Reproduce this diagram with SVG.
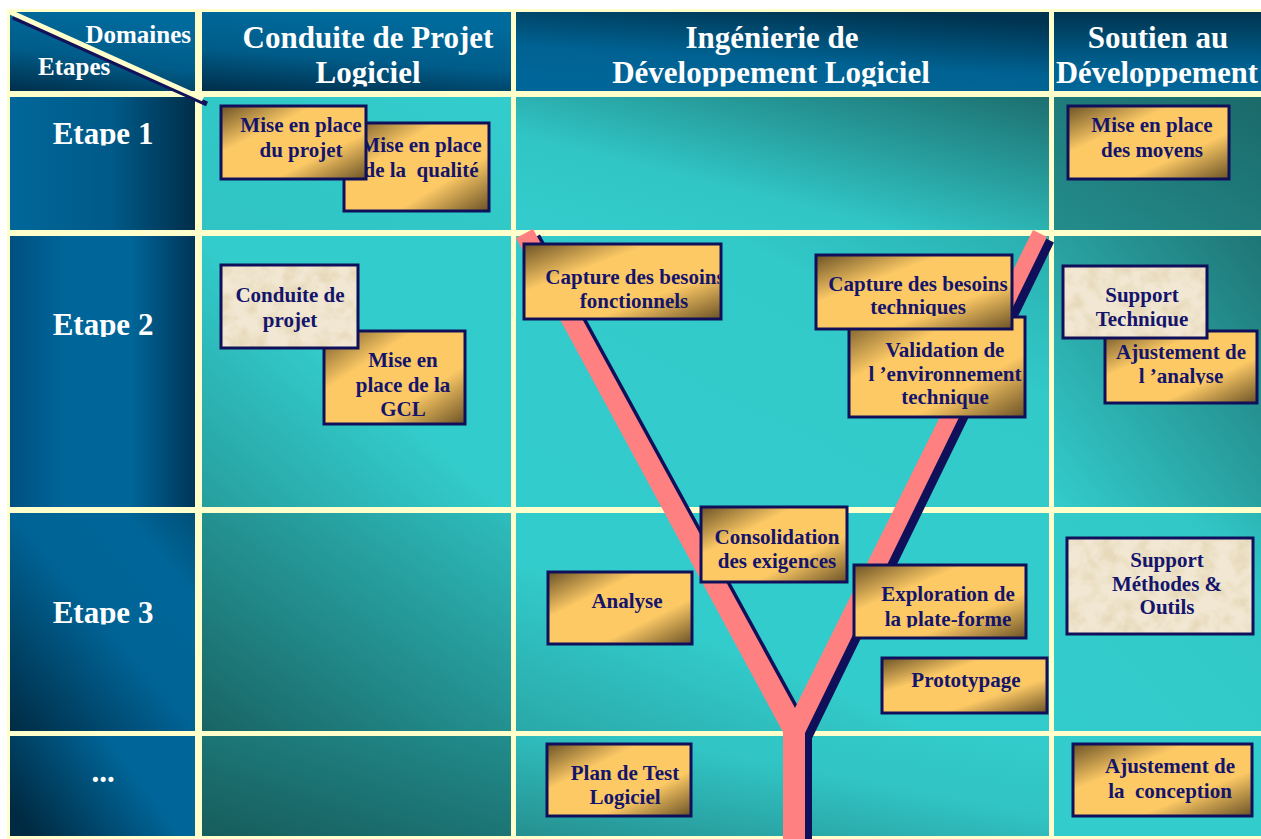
<svg xmlns="http://www.w3.org/2000/svg" width="1261" height="839" viewBox="0 0 1261 839">
<style>
.hd{font-family:"Liberation Serif","Times New Roman",serif;font-weight:bold;font-size:31px;fill:#FFFFFF;text-anchor:middle}
.sm{font-family:"Liberation Serif","Times New Roman",serif;font-weight:bold;font-size:25px;fill:#FFFFFF}
.bt{font-family:"Liberation Serif","Times New Roman",serif;font-weight:bold;font-size:21px;fill:#14146B;text-anchor:middle}
.gold{fill:url(#gold);stroke:#10105A;stroke-width:3}
.parch{fill:#F1E7D2}
.frame{fill:none;stroke:#10105A;stroke-width:3}
.tex{fill:#000;filter:url(#parchTex)}
</style>
<defs>
<linearGradient id="gold" x1="0" y1="0" x2="1" y2="1">
<stop offset="0" stop-color="#6B5226"/>
<stop offset="0.32" stop-color="#FCC965"/>
<stop offset="0.68" stop-color="#FCC965"/>
<stop offset="1" stop-color="#6B5226"/>
</linearGradient>
<filter id="parchTex" x="0" y="0" width="100%" height="100%">
<feTurbulence type="fractalNoise" baseFrequency="0.06" numOctaves="4" seed="7" result="n"/>
<feColorMatrix in="n" type="matrix" values="0 0 0 0 0.80  0 0 0 0 0.70  0 0 0 0 0.50  3 0 0 0 -1.25" result="c"/>
<feComposite in="c" in2="SourceGraphic" operator="in"/>
</filter>
<linearGradient id="hA" x1="0.3" y1="0" x2="0" y2="1"><stop offset="0" stop-color="#006A9C"/><stop offset="0.5" stop-color="#005C89"/><stop offset="1" stop-color="#002E4A"/></linearGradient>
<linearGradient id="hB" x1="0.7" y1="0" x2="0.3" y2="1"><stop offset="0" stop-color="#00334F"/><stop offset="0.6" stop-color="#006292"/><stop offset="1" stop-color="#006699"/></linearGradient>
<linearGradient id="hC" x1="0.5" y1="0" x2="0.5" y2="1"><stop offset="0" stop-color="#00344F"/><stop offset="0.7" stop-color="#006292"/><stop offset="1" stop-color="#006699"/></linearGradient>
<linearGradient id="e1" x1="0" y1="0" x2="1" y2="0"><stop offset="0" stop-color="#00679A"/><stop offset="0.55" stop-color="#005A88"/><stop offset="1" stop-color="#002E4A"/></linearGradient>
<linearGradient id="e2" x1="0" y1="0" x2="1" y2="0"><stop offset="0" stop-color="#005080"/><stop offset="0.3" stop-color="#00669A"/><stop offset="0.65" stop-color="#006699"/><stop offset="1" stop-color="#003558"/></linearGradient>
<linearGradient id="e3" x1="0" y1="1" x2="1" y2="0"><stop offset="0" stop-color="#002B44"/><stop offset="0.5" stop-color="#006395"/><stop offset="0.8" stop-color="#006699"/><stop offset="1" stop-color="#005078"/></linearGradient>
<linearGradient id="e4" x1="0" y1="0.7" x2="1" y2="0.3"><stop offset="0" stop-color="#002A42"/><stop offset="0.7" stop-color="#006699"/><stop offset="1" stop-color="#006699"/></linearGradient>
<linearGradient id="c12" x1="0" y1="1" x2="1" y2="0"><stop offset="0" stop-color="#30C4C4"/><stop offset="1" stop-color="#33CCCC"/></linearGradient>
<linearGradient id="c13" x1="0" y1="1" x2="1" y2="0"><stop offset="0" stop-color="#33CCCC"/><stop offset="0.35" stop-color="#31C6C6"/><stop offset="1" stop-color="#1D6F6F"/></linearGradient>
<linearGradient id="c14" x1="0" y1="1" x2="1" y2="0"><stop offset="0" stop-color="#248C8C"/><stop offset="1" stop-color="#1B6A6A"/></linearGradient>
<linearGradient id="c22" x1="0" y1="1" x2="1" y2="0"><stop offset="0" stop-color="#279E9E"/><stop offset="0.5" stop-color="#33CCCC"/><stop offset="1" stop-color="#33CCCC"/></linearGradient>
<linearGradient id="c23" x1="0" y1="1" x2="1" y2="0"><stop offset="0" stop-color="#33CCCC"/><stop offset="0.7" stop-color="#32C9C9"/><stop offset="1" stop-color="#2AAEAE"/></linearGradient>
<linearGradient id="c24" x1="0" y1="1" x2="1" y2="0"><stop offset="0" stop-color="#33CCCC"/><stop offset="1" stop-color="#1F7575"/></linearGradient>
<linearGradient id="c32" x1="0" y1="1" x2="1" y2="0"><stop offset="0" stop-color="#196464"/><stop offset="1" stop-color="#2EBDBD"/></linearGradient>
<linearGradient id="c33" x1="0" y1="1" x2="1" y2="0"><stop offset="0" stop-color="#2AA8A8"/><stop offset="0.4" stop-color="#33CCCC"/><stop offset="1" stop-color="#33CCCC"/></linearGradient>
<linearGradient id="c34" x1="0" y1="1" x2="1" y2="0"><stop offset="0" stop-color="#33CCCC"/><stop offset="0.8" stop-color="#32C8C8"/><stop offset="1" stop-color="#2DB5B5"/></linearGradient>
<linearGradient id="c42" x1="0" y1="1" x2="1" y2="0"><stop offset="0" stop-color="#175C5C"/><stop offset="1" stop-color="#228D8D"/></linearGradient>
<linearGradient id="c43" x1="0" y1="1" x2="1" y2="0"><stop offset="0" stop-color="#269090"/><stop offset="0.6" stop-color="#31C4C4"/><stop offset="1" stop-color="#33CCCC"/></linearGradient>
<clipPath id="clHdr"><rect x="0" y="0" width="1261" height="86.5"/></clipPath>
<clipPath id="clE1"><rect x="0" y="100" width="200" height="45.5"/></clipPath>
<clipPath id="clE2"><rect x="0" y="290" width="200" height="47"/></clipPath>
<clipPath id="clE3"><rect x="0" y="580" width="200" height="44.5"/></clipPath>
<clipPath id="clB3"><rect x="1060" y="100" width="180" height="58.5"/></clipPath>
<clipPath id="clB6"><rect x="520" y="240" width="199.5" height="80"/></clipPath>
<clipPath id="clB7"><rect x="810" y="250" width="210" height="66"/></clipPath>
<clipPath id="clB9"><rect x="1060" y="260" width="150" height="67.5"/></clipPath>
<clipPath id="clB10"><rect x="1100" y="325" width="160" height="59.5"/></clipPath>
<clipPath id="clB13"><rect x="850" y="560" width="180" height="67.5"/></clipPath>
</defs>

<rect x="0" y="0" width="1261" height="839" fill="#FFFFFF"/>
<rect x="7" y="9" width="1254" height="830" fill="#FFFFCC"/>

<g id="grid">
<rect x="10" y="12" width="185" height="79" fill="url(#hA)"/>
<rect x="202" y="12" width="309" height="79" fill="url(#hA)"/>
<rect x="516" y="12" width="533" height="79" fill="url(#hB)"/>
<rect x="1054" y="12" width="207" height="79" fill="url(#hC)"/>
<rect x="10" y="97" width="185" height="133" fill="url(#e1)"/>
<rect x="10" y="236" width="185" height="271" fill="url(#e2)"/>
<rect x="10" y="513" width="185" height="218" fill="url(#e3)"/>
<rect x="10" y="736" width="185" height="100" fill="url(#e4)"/>
<rect x="202" y="97" width="309" height="133" fill="url(#c12)"/>
<rect x="516" y="97" width="533" height="133" fill="url(#c13)"/>
<rect x="1054" y="97" width="207" height="133" fill="url(#c14)"/>
<rect x="202" y="236" width="309" height="271" fill="url(#c22)"/>
<rect x="516" y="236" width="533" height="271" fill="url(#c23)"/>
<rect x="1054" y="236" width="207" height="271" fill="url(#c24)"/>
<rect x="202" y="513" width="309" height="218" fill="url(#c32)"/>
<rect x="516" y="513" width="533" height="218" fill="url(#c33)"/>
<rect x="1054" y="513" width="207" height="218" fill="url(#c34)"/>
<rect x="202" y="736" width="309" height="100" fill="url(#c42)"/>
<rect x="516" y="736" width="533" height="100" fill="url(#c43)"/>
<rect x="1054" y="736" width="207" height="100" fill="#33CCCC"/>
</g>

<g id="headers">
<line x1="13" y1="17" x2="207" y2="104" stroke="#12125A" stroke-width="5"/>
<line x1="10" y1="12" x2="203" y2="99" stroke="#FFFFCC" stroke-width="5"/>
<text class="sm" x="191" y="43" text-anchor="end">Domaines</text>
<text class="sm" x="38" y="75">Etapes</text>
<g clip-path="url(#clHdr)">
<text class="hd" x="368" y="48">Conduite de Projet</text>
<text class="hd" x="368" y="83">Logiciel</text>
<text class="hd" x="772" y="48">Ingénierie de</text>
<text class="hd" x="771" y="83">Développement Logiciel</text>
<text class="hd" x="1158" y="48">Soutien au</text>
<text class="hd" x="1157" y="83" textLength="202" lengthAdjust="spacingAndGlyphs">Développement</text>
</g>
<text class="hd" x="103" y="144" clip-path="url(#clE1)">Etape 1</text>
<text class="hd" x="103" y="335" clip-path="url(#clE2)">Etape 2</text>
<text class="hd" x="103" y="623" clip-path="url(#clE3)">Etape 3</text>
<text class="hd" x="103" y="782">...</text>
</g>

<g id="connectors">
<polygon points="523,243.5 540,234.5 802,713.5 1040,235.5 1054,242.5 812,738.5 812,845 790,845 790,737.5" fill="#10105A"/>
<polygon points="516,238 533,229 795,708 1033,230 1047,237 805,733 805,845 783,845 783,732" fill="#FF8080"/>
</g>

<g id="n-qualite">
<rect class="gold" x="344" y="123" width="145" height="88"/>
<text class="bt" xml:space="preserve"><tspan x="421" y="152">Mise en place</tspan><tspan x="421" y="177">de la  qualité</tspan></text>
</g>
<g id="n-projet">
<rect class="gold" x="221" y="106" width="145" height="73"/>
<text class="bt"><tspan x="301" y="132">Mise en place</tspan><tspan x="301" y="157">du projet</tspan></text>
</g>
<g id="n-moyens">
<rect class="gold" x="1068" y="106" width="161" height="73"/>
<text class="bt" clip-path="url(#clB3)"><tspan x="1152" y="132">Mise en place</tspan><tspan x="1152" y="157">des moyens</tspan></text>
</g>

<g id="n-gcl">
<rect class="gold" x="324" y="331" width="141" height="93"/>
<text class="bt"><tspan x="403" y="367">Mise en</tspan><tspan x="403" y="392">place de la</tspan><tspan x="403" y="416">GCL</tspan></text>
</g>
<g id="n-conduite">
<rect class="parch" x="221" y="265" width="137" height="83"/>
<rect class="tex" x="221" y="265" width="137" height="83"/>
<rect class="frame" x="221" y="265" width="137" height="83"/>
<text class="bt"><tspan x="290" y="302">Conduite de</tspan><tspan x="290" y="327">projet</tspan></text>
</g>

<g id="n-fonctionnels">
<rect class="gold" x="524" y="244" width="197" height="75"/>
<text class="bt" clip-path="url(#clB6)"><tspan x="635" y="284">Capture des besoins</tspan><tspan x="634" y="308">fonctionnels</tspan></text>
</g>

<g id="n-validation">
<rect class="gold" x="849" y="317" width="176" height="100"/>
<text class="bt"><tspan x="945" y="357">Validation de</tspan><tspan x="945" y="381">l ’environnement</tspan><tspan x="945" y="404">technique</tspan></text>
</g>
<g id="n-techniques">
<rect class="gold" x="816" y="255" width="196" height="74"/>
<text class="bt" clip-path="url(#clB7)"><tspan x="918" y="291">Capture des besoins</tspan><tspan x="918" y="314">techniques</tspan></text>
</g>

<g id="n-analyse-ajust">
<rect class="gold" x="1105" y="331" width="152" height="72"/>
<text class="bt" clip-path="url(#clB10)"><tspan x="1181" y="359">Ajustement de</tspan><tspan x="1181" y="383">l ’analyse</tspan></text>
</g>
<g id="n-support-tech">
<rect class="parch" x="1063" y="266" width="144" height="72"/>
<rect class="tex" x="1063" y="266" width="144" height="72"/>
<rect class="frame" x="1063" y="266" width="144" height="72"/>
<text class="bt" clip-path="url(#clB9)"><tspan x="1142" y="302">Support</tspan><tspan x="1142" y="326">Technique</tspan></text>
</g>

<g id="n-consolidation">
<rect class="gold" x="701" y="507" width="146" height="75"/>
<text class="bt"><tspan x="777" y="544">Consolidation</tspan><tspan x="777" y="568">des exigences</tspan></text>
</g>
<g id="n-analyse">
<rect class="gold" x="548" y="572" width="144" height="72"/>
<text class="bt" x="627" y="608">Analyse</text>
</g>
<g id="n-exploration">
<rect class="gold" x="854" y="565" width="172" height="73"/>
<text class="bt" clip-path="url(#clB13)"><tspan x="948" y="601">Exploration de</tspan><tspan x="948" y="626">la plate-forme</tspan></text>
</g>
<g id="n-prototypage">
<rect class="gold" x="882" y="658" width="165" height="55"/>
<text class="bt" x="966" y="687">Prototypage</text>
</g>
<g id="n-support-meth">
<rect class="parch" x="1067" y="538" width="186" height="96"/>
<rect class="tex" x="1067" y="538" width="186" height="96"/>
<rect class="frame" x="1067" y="538" width="186" height="96"/>
<text class="bt"><tspan x="1167" y="567">Support</tspan><tspan x="1167" y="591">Méthodes &amp;</tspan><tspan x="1167" y="614">Outils</tspan></text>
</g>

<g id="n-plan-test">
<rect class="gold" x="547" y="744" width="144" height="72"/>
<text class="bt"><tspan x="625" y="780">Plan de Test</tspan><tspan x="625" y="804">Logiciel</tspan></text>
</g>
<g id="n-conception">
<rect class="gold" x="1073" y="744" width="179" height="72"/>
<text class="bt" xml:space="preserve"><tspan x="1170" y="773">Ajustement de</tspan><tspan x="1170" y="798">la  conception</tspan></text>
</g>
</svg>
